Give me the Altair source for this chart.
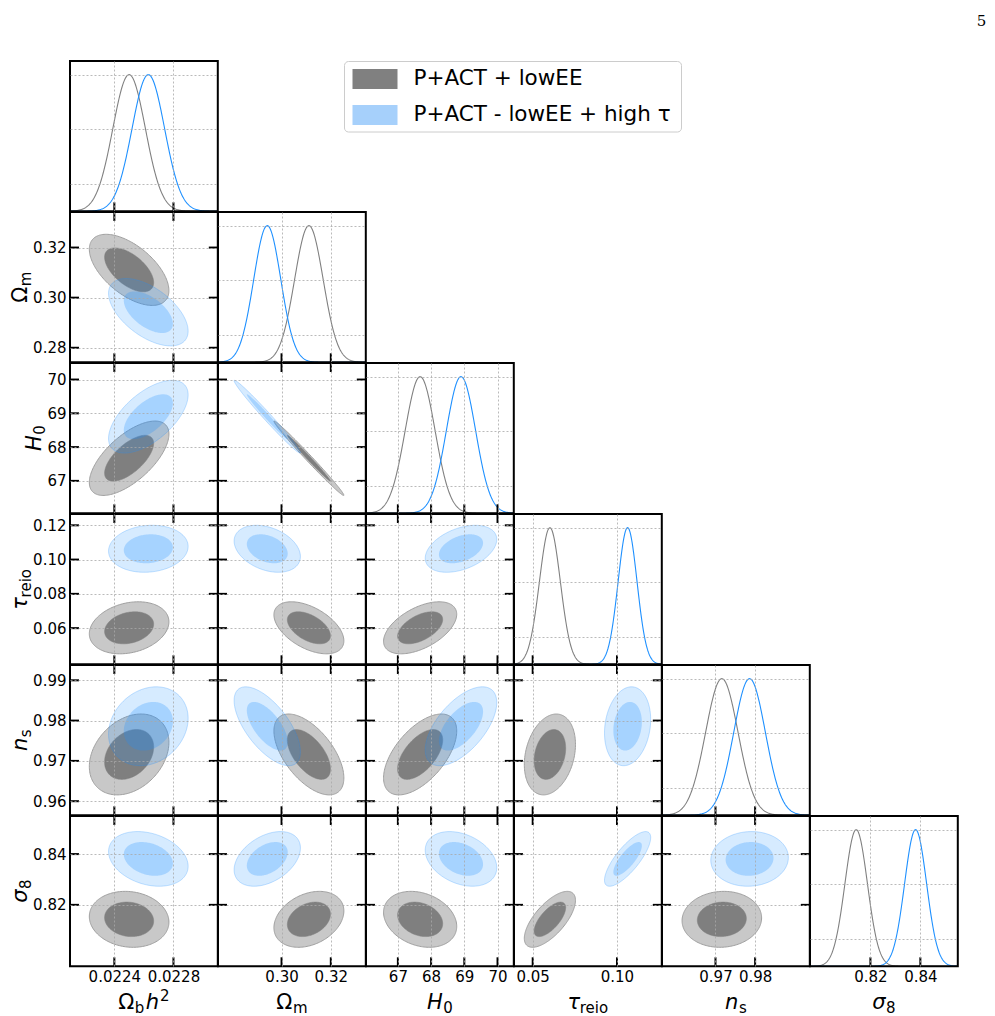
import math
import numpy as np
import pandas as pd
import altair as alt

# ---- parameters (order: omega_b, Omega_m, H0, tau_reio, n_s, sigma8) ----
lo = [0.0221, 0.2742, 66.04, 0.0389, 0.9565, 0.7958]
hi = [0.0231, 0.3342, 70.49, 0.1266, 0.9938, 0.8550]
xticks = [[0.0224, 0.0228], [0.30, 0.32], [67, 68, 69, 70],
          [0.05, 0.10], [0.97, 0.98], [0.82, 0.84]]
yticks = [[], [0.28, 0.30, 0.32], [67, 68, 69, 70],
          [0.06, 0.08, 0.10, 0.12], [0.96, 0.97, 0.98, 0.99], [0.82, 0.84]]
fmts = [".4f", ".2f", "d", ".2f", ".2f", ".2f"]
pdf_grid = [0.2, 0.6, 1.0]

# P+ACT + lowEE
mean_a = [0.02250, 0.3111, 67.67, 0.0602, 0.9716, 0.8143]
sig_a = [0.000110, 0.0058, 0.45, 0.0062, 0.0041, 0.0045]
# P+ACT - lowEE + high tau
mean_b = [0.02263, 0.2942, 68.90, 0.1063, 0.9786, 0.8381]
sig_b = [0.000110, 0.0055, 0.44, 0.0056, 0.0040, 0.0044]

# correlation coefficients for pairs (row i, column j < i), row by row
corr_a = [-0.58,
          0.65, -0.993,
          0.23, -0.50, 0.52,
          0.30, -0.58, 0.58, 0.25,
          -0.10, 0.30, -0.25, 0.68, 0.05]
corr_b = [-0.56,
          0.60, -0.988,
          0.10, -0.33, 0.40,
          0.20, -0.65, 0.60, 0.17,
          -0.27, 0.40, -0.32, 0.78, 0.05]

levels = [0.68, 0.95]
legend_labels = ["P+ACT + lowEE", "P+ACT - lowEE + high τ"]

# axis titles as (text, size, style, baseline shift, gap after)
M, S = 21, 15
titles = [
    [("Ω", M, "normal", 0, 0.5), ("b", S, "normal", -4, 1.5),
     ("h", M, "italic", 0, 1.0), ("2", S, "normal", 8, 0)],
    [("Ω", M, "normal", 0, 0.5), ("m", S, "normal", -4, 0)],
    [("H", M, "italic", 0, 0.5), ("0", S, "normal", -4, 0)],
    [("τ", M, "italic", 0, 0.5), ("reio", S, "normal", -4, 0)],
    [("n", M, "italic", 0, 0.5), ("s", S, "normal", -4, 0)],
    [("σ", M, "italic", 0, 0.5), ("8", S, "normal", -4, 0)],
]
glyph_w = {"Ω": 0.765, "b": 0.635, "h": 0.634, "2": 0.636, "m": 0.974,
           "H": 0.752, "0": 0.636, "τ": 0.56, "r": 0.411, "e": 0.615,
           "i": 0.278, "o": 0.612, "n": 0.634, "s": 0.521, "σ": 0.634,
           "8": 0.636}

# ---- layout ----
N = 6
W, H = 147.8, 150.3
TICK = 9
FONT = "DejaVu Sans"
GRAY, BLUE = "#808080", "#1e90ff"
one = pd.DataFrame({"k": [0]})
radii = [math.sqrt(-2.0 * math.log(1.0 - p)) for p in levels]

contour_style = {
    ("a", 1): dict(fill="#c8c8c8", fillOpacity=1.0, stroke="#a0a0a0", strokeOpacity=1.0, strokeWidth=1.0),
    ("a", 0): dict(fill="#7f7f7f", fillOpacity=1.0, stroke="#7f7f7f", strokeOpacity=1.0, strokeWidth=0.5),
    ("b", 1): dict(fill=BLUE, fillOpacity=0.18, stroke=BLUE, strokeOpacity=0.25, strokeWidth=1.0),
    ("b", 0): dict(fill=BLUE, fillOpacity=0.26, stroke=BLUE, strokeOpacity=0.0, strokeWidth=0.5),
}


def rho_of(corr, i, j):
    return corr[i * (i - 1) // 2 + j]


def ellipse(mx, my, sx, sy, rho, r, n=160):
    t = np.linspace(0.0, 2.0 * np.pi, n)
    u, v = r * np.cos(t), r * np.sin(t)
    return pd.DataFrame({"x": mx + sx * u,
                         "y": my + sy * (rho * u + np.sqrt(1.0 - rho ** 2) * v),
                         "i": np.arange(n)})


def gauss_curve(j, m, s, n=300):
    x = np.linspace(lo[j], hi[j], n)
    return pd.DataFrame({"x": x, "y": np.exp(-0.5 * ((x - m) / s) ** 2)})


def text_at(txt, x, y, size, style="normal", angle=0, align="left",
            baseline="alphabetic", font=FONT, color="black"):
    return alt.Chart(one).mark_text(
        text=txt, font=font, fontSize=size, fontStyle=style, angle=angle,
        align=align, baseline=baseline, color=color,
    ).encode(x=alt.value(x), y=alt.value(y))


def title_layers(parts, ax, ay, rotated):
    widths = [sum(glyph_w.get(c, 0.6) for c in t) * s + g for t, s, _, _, g in parts]
    total = sum(widths)
    out, off = [], 0.0
    for (t, s, style, shift, g), w in zip(parts, widths):
        if rotated:
            out.append(text_at(t, ax - shift, ay + total / 2 - off, s, style, angle=270))
        else:
            out.append(text_at(t, ax - total / 2 + off, ay - shift, s, style))
        off += w
    return out


def tick_rules(vals, scale, side):
    df = pd.DataFrame({"v": vals})
    base = alt.Chart(df).mark_rule(color="black", strokeWidth=2)
    if side == "bottom":
        return base.encode(x=alt.X("v:Q", scale=scale, axis=None),
                           y=alt.value(H), y2=alt.value(H - TICK))
    if side == "top":
        return base.encode(x=alt.X("v:Q", scale=scale, axis=None),
                           y=alt.value(0), y2=alt.value(TICK))
    if side == "left":
        return base.encode(y=alt.Y("v:Q", scale=scale, axis=None),
                           x=alt.value(0), x2=alt.value(TICK))
    return base.encode(y=alt.Y("v:Q", scale=scale, axis=None),
                       x=alt.value(W), x2=alt.value(W - TICK))


def panel(i, j):
    diag = i == j
    xs = alt.Scale(domain=[lo[j], hi[j]], zero=False, nice=False)
    if diag:
        ys = alt.Scale(domain=[0, 1.1], zero=False, nice=False)
        yvals, y0, yfmt = pdf_grid, 0.0, ".1f"
    else:
        ys = alt.Scale(domain=[lo[i], hi[i]], zero=False, nice=False)
        yvals, y0, yfmt = yticks[i], lo[i], fmts[i]

    axis_common = dict(grid=True, ticks=False, domain=False, title=None,
                       labelFlush=False, labelOverlap=False, zindex=1,
                       gridColor="#a8a8a8", gridDash=[2, 2], gridWidth=0.8,
                       labelFont=FONT, labelFontSize=15, labelColor="black")
    layers = [alt.Chart(pd.DataFrame({"x": [lo[j]], "y": [y0]})).mark_point(opacity=0).encode(
        x=alt.X("x:Q", scale=xs, axis=alt.Axis(values=xticks[j], labels=(i == N - 1),
                                              format=fmts[j], labelPadding=3, **axis_common)),
        y=alt.Y("y:Q", scale=ys, axis=alt.Axis(values=yvals, labels=(j == 0 and not diag),
                                              format=yfmt, labelPadding=4, **axis_common)),
    )]

    if diag:
        for m, s, col in [(mean_a, sig_a, GRAY), (mean_b, sig_b, BLUE)]:
            layers.append(alt.Chart(gauss_curve(j, m[j], s[j])).mark_line(
                color=col, strokeWidth=1.1, clip=True).encode(
                x=alt.X("x:Q", scale=xs, axis=None), y=alt.Y("y:Q", scale=ys, axis=None)))
        layers.append(tick_rules(xticks[j], xs, "bottom"))
    else:
        for key, m, s, corr in [("a", mean_a, sig_a, corr_a), ("b", mean_b, sig_b, corr_b)]:
            rho = rho_of(corr, i, j)
            for lev in (1, 0):
                df = ellipse(m[j], m[i], s[j], s[i], rho, radii[lev])
                layers.append(alt.Chart(df).mark_line(clip=True, **contour_style[(key, lev)]).encode(
                    x=alt.X("x:Q", scale=xs, axis=None),
                    y=alt.Y("y:Q", scale=ys, axis=None),
                    order=alt.Order("i:Q")))
        layers += [tick_rules(xticks[j], xs, "bottom"), tick_rules(xticks[j], xs, "top"),
                   tick_rules(yticks[i], ys, "left"), tick_rules(yticks[i], ys, "right")]

    # panel frame
    layers.append(alt.Chart(one).mark_rect(filled=False, stroke="black", strokeWidth=2).encode(
        x=alt.value(0), x2=alt.value(W), y=alt.value(0), y2=alt.value(H)))

    # axis titles
    if i == N - 1:
        layers += title_layers(titles[j], W / 2, H + 43, rotated=False)
    if j == 0 and not diag:
        tx = -29.5 if i == 2 else -43.5
        layers += title_layers(titles[i], tx, H / 2, rotated=True)

    if i == 0 and j == 0:
        # page origin anchor, page number and legend
        layers.append(alt.Chart(one).mark_rect(opacity=0).encode(
            x=alt.value(-69.5), x2=alt.value(-69), y=alt.value(-60), y2=alt.value(-59.5)))
        layers.append(text_at("5", 911.5, -35.5, 15, font="DejaVu Serif", align="center"))
        layers.append(alt.Chart(one).mark_rect(fill="white", stroke="#cccccc", strokeWidth=1,
                                               cornerRadius=4).encode(
            x=alt.value(274.5), x2=alt.value(611.5), y=alt.value(0.5), y2=alt.value(71)))
        for k, (lab, col) in enumerate(zip(legend_labels, ["#808080", "#a6d0fb"])):
            yc = 18 + 36 * k
            layers.append(alt.Chart(one).mark_rect(fill=col).encode(
                x=alt.value(282.5), x2=alt.value(327.5),
                y=alt.value(yc - 10), y2=alt.value(yc + 10)))
            layers.append(text_at(lab, 343.5, yc, 21.5, baseline="middle"))

    return alt.layer(*layers).resolve_axis(x="independent", y="independent").properties(
        width=W, height=H, view=alt.ViewBackground(stroke="transparent"))


def empty():
    return alt.Chart(one).mark_point(opacity=0).encode(
        x=alt.value(0), y=alt.value(0)).properties(
        width=W, height=H, view=alt.ViewBackground(stroke="transparent"))


cells = []
for i in range(N):
    for j in range(N):
        cells.append(panel(i, j) if j <= i else empty())

chart = alt.concat(*cells, columns=N, spacing=0, bounds="flush").properties(
    padding=0, background="white"
).configure(font=FONT).configure_view(stroke="transparent")

chart.save("out.html", embed_options={"renderer": "svg", "actions": False})
